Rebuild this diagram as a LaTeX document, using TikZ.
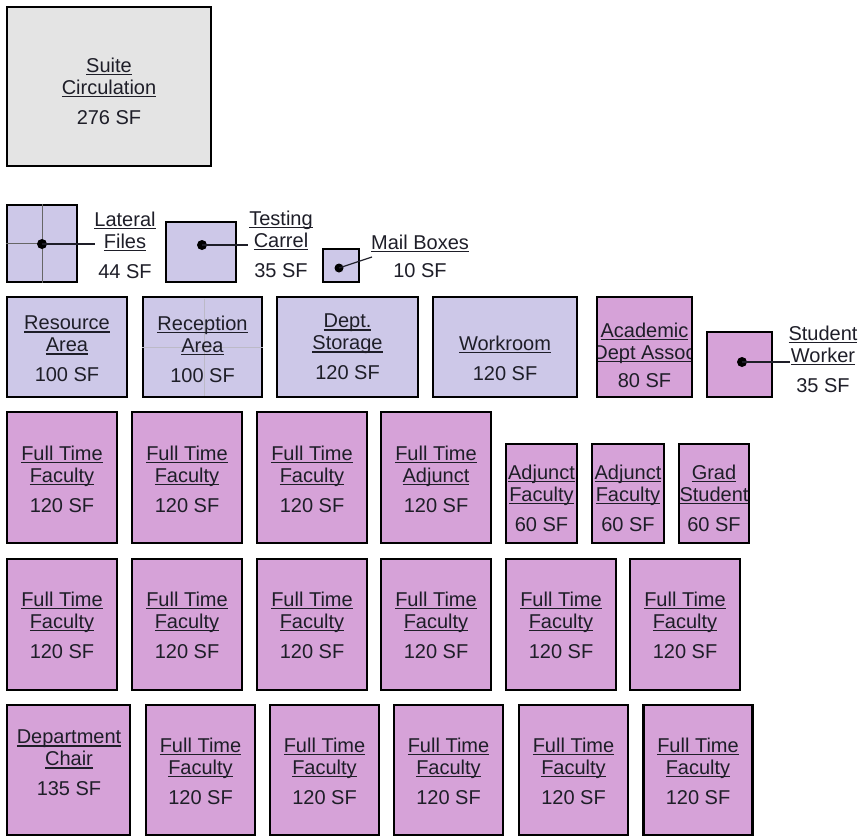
\documentclass[tikz,border=0pt]{standalone}
\usepackage{fontspec}
\setmainfont{Liberation Sans}
\definecolor{lav}{RGB}{205,200,232}
\definecolor{pnk}{RGB}{214,162,216}
\definecolor{gry}{RGB}{228,228,228}
\definecolor{txt}{RGB}{30,30,40}
\newsavebox\ulbox
\newcommand\myul[1]{\sbox\ulbox{#1}\rlap{\rule[-3pt]{\wd\ulbox}{1.3pt}}\usebox\ulbox}
\tikzset{
  room/.style={draw=black, line width=2.6pt, inner sep=0pt},
  lab/.style={align=center, inner sep=0pt, text=txt, font=\fontsize{20}{22}\selectfont},
  dotmark/.style={circle, fill=black, inner sep=0pt, minimum size=10pt},
  lead/.style={draw=txt, line width=1.2pt},
  faint/.style={draw=black!45, line width=0.6pt}
}
\newcommand\ft{\myul{Full Time}\\\myul{Faculty}\\[8pt]120 SF}
\begin{document}
\begin{tikzpicture}[x=1pt,y=-1pt]
\useasboundingbox (0,0) rectangle (859,836);
% Suite circulation
\node[room, fill=gry, minimum width=204pt, minimum height=159pt] (suite) at (109,86.5) {};
\node[lab] (suiteT) at (109,91) {\myul{Suite}\\\myul{Circulation}\\[8pt]276 SF};
% Lateral files
\node[room, fill=lav, minimum width=70pt, minimum height=77pt] (lf) at (42,243.5) {};
\draw[faint, black!60, line width=0.8pt] (lf.north) -- (lf.south);
\draw[faint, black!60, line width=0.8pt] (lf.west) -- (lf.east);
\node[dotmark] (lfdot) at (42,244) {};
\coordinate (lfend) at (95,244);
\draw[lead] (lfdot.center) -- (lfend);
\node[lab] (lfT) at (125,245) {\myul{Lateral}\\\myul{Files}\\[8pt]44 SF};
% Testing carrel
\node[room, fill=lav, minimum width=70pt, minimum height=60pt] (tc) at (201,252) {};
\node[dotmark] (tcdot) at (202,245) {};
\coordinate (tcend) at (248,245);
\draw[lead] (tcdot.center) -- (tcend);
\node[lab] (tcT) at (281,244) {\myul{Testing}\\\myul{Carrel}\\[8pt]35 SF};
% Mail boxes
\node[room, fill=lav, minimum width=36pt, minimum height=33pt] (mb) at (341,265.5) {};
\node[dotmark, minimum size=9pt] (mbdot) at (339,268) {};
\coordinate (mbend) at (372,257);
\draw[lead] (mbdot.center) -- (mbend);
\node[lab] (mbT) at (420,256) {\myul{Mail Boxes}\\[6pt]10 SF};
% Row 3
\node[room, fill=lav, minimum width=120pt, minimum height=100pt] (ra) at (67,347) {};
\node[lab] (raT) at (67,349) {\myul{Resource}\\\myul{Area}\\[8pt]100 SF};
\node[room, fill=lav, minimum width=119pt, minimum height=100pt] (rec) at (202.5,347) {};
\draw[faint, draw=lav!70!black!60, line width=0.7pt] (rec.west |- 0,347) -- (rec.east |- 0,347);
\draw[faint, draw=lav!70!black!60, line width=0.7pt] (204,298.5) -- (204,395.5);
\node[lab] (recT) at (202.5,349) {\myul{Reception}\\\myul{Area}\\[8pt]100 SF};
\node[room, fill=lav, minimum width=141pt, minimum height=100pt] (ds) at (347.5,347) {};
\node[lab] (dsT) at (347.5,347) {\myul{Dept.}\\\myul{Storage}\\[8pt]120 SF};
\node[room, fill=lav, minimum width=144pt, minimum height=100pt] (wr) at (505,347) {};
\node[lab] (wrT) at (505,358) {\myul{Workroom}\\[8pt]120 SF};
\node[room, fill=pnk, minimum width=95pt, minimum height=100pt] (ada) at (644.5,347) {};
\begin{scope}
\clip (597,297) rectangle (692,397);
\node[lab] (adaT) at (644.5,355) {\myul{Academic}\\\myul{Dept Assoc}\\[6pt]80 SF};
\end{scope}
\node[room, fill=none, minimum width=95pt, minimum height=100pt] (adaB) at (644.5,347) {};
\node[room, fill=pnk, minimum width=65pt, minimum height=65pt] (sw) at (739.5,364.5) {};
\node[dotmark] (swdot) at (742,362) {};
\coordinate (swend) at (790,362);
\draw[lead] (swdot.center) -- (swend);
\node[lab] (swT) at (823,359) {\myul{Student}\\\myul{Worker}\\[8pt]35 SF};
% Row 4
\foreach \cx/\nm in {62/a, 187/b, 312/c}{
  \node[room, fill=pnk, minimum width=110pt, minimum height=131pt] (r4\nm) at (\cx,477.5) {};
  \node[lab] (r4\nm T) at (\cx,479) {\ft};
}
\node[room, fill=pnk, minimum width=110pt, minimum height=131pt] (r4d) at (436,477.5) {};
\node[lab] (r4dT) at (436,479) {\myul{Full Time}\\\myul{Adjunct}\\[8pt]120 SF};
\node[room, fill=pnk, minimum width=71pt, minimum height=99pt] (adj1) at (541.5,493.5) {};
\node[lab] (adj1T) at (541.5,498) {\myul{Adjunct}\\\myul{Faculty}\\[8pt]60 SF};
\node[room, fill=pnk, minimum width=72pt, minimum height=99pt] (adj2) at (628,493.5) {};
\node[lab] (adj2T) at (628,498) {\myul{Adjunct}\\\myul{Faculty}\\[8pt]60 SF};
\node[room, fill=pnk, minimum width=70pt, minimum height=99pt] (grad) at (714,493.5) {};
\node[lab] (gradT) at (714,498) {\myul{Grad}\\\myul{Student}\\[8pt]60 SF};
% Row 5
\foreach \cx/\nm in {62/a, 187/b, 312/c, 436/d, 561/e, 685/f}{
  \node[room, fill=pnk, minimum width=110pt, minimum height=131pt] (r5\nm) at (\cx,624.5) {};
  \node[lab] (r5\nm T) at (\cx,625) {\ft};
}
% Row 6
\node[room, fill=pnk, minimum width=123pt, minimum height=130pt] (chair) at (68.5,770) {};
\node[lab] (chairT) at (69,763) {\myul{Department}\\\myul{Chair}\\[8pt]135 SF};
\foreach \cx/\nm in {200.5/a, 324.5/b, 448.5/c, 573.5/d, 698/e}{
  \node[room, fill=pnk, minimum width=109pt, minimum height=130pt] (r6\nm) at (\cx,770) {};
  \node[lab] (r6\nm T) at (\cx,771) {\ft};
}
\end{tikzpicture}
\end{document}
